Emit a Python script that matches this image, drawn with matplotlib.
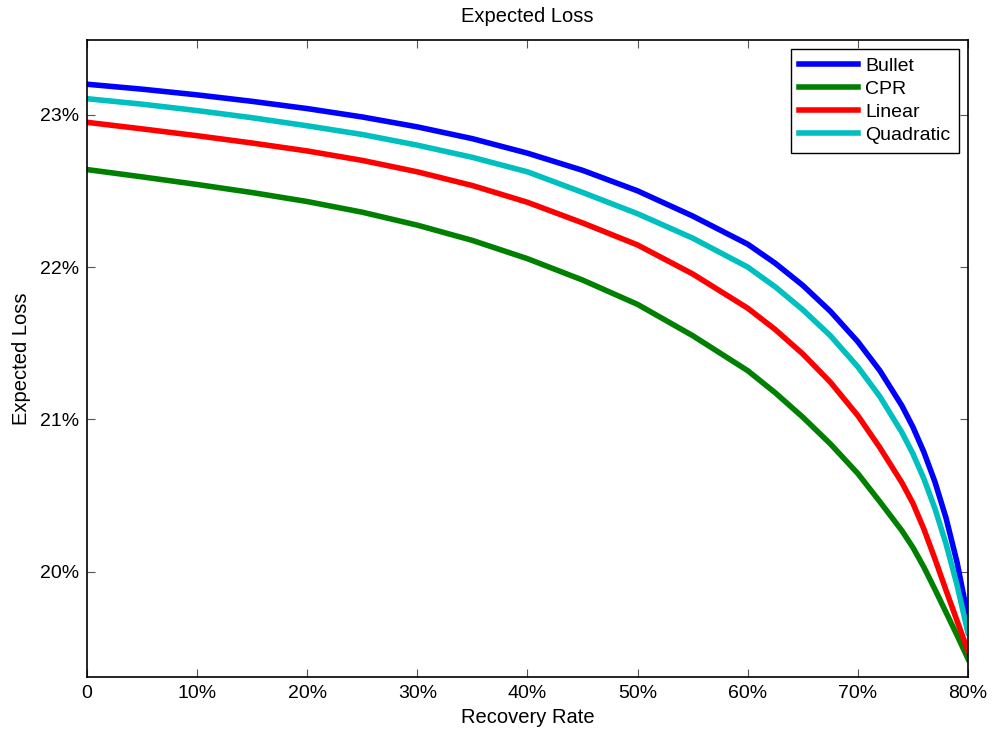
import numpy as np
import matplotlib.pyplot as plt
from matplotlib.ticker import FuncFormatter

plt.rcParams['font.family'] = ['Liberation Sans', 'DejaVu Sans']

# Recovery rate (%)
recovery = [0, 5, 10, 15, 20, 25, 30, 35, 40, 45, 50, 55, 60, 62.5, 65, 67.5,
            70, 72, 74, 75, 76, 77, 78, 79, 80]

# Expected loss (%) per amortization profile
bullet = [23.20, 23.1675, 23.13, 23.0875, 23.04, 22.985, 22.92, 22.8425, 22.7475, 22.635, 22.50,
          22.335, 22.15, 22.025, 21.88, 21.71, 21.51, 21.32, 21.09, 20.95, 20.785, 20.59,
          20.355, 20.065, 19.70]
cpr = [22.64, 22.592, 22.542, 22.489, 22.43, 22.36, 22.275, 22.175, 22.055, 21.915, 21.755,
       21.55, 21.32, 21.175, 21.015, 20.84, 20.645, 20.46, 20.27, 20.16, 20.03, 19.885,
       19.735, 19.585, 19.43]
linear = [22.95, 22.907, 22.862, 22.814, 22.762, 22.70, 22.625, 22.535, 22.425, 22.29, 22.145,
          21.955, 21.73, 21.59, 21.43, 21.245, 21.025, 20.815, 20.585, 20.45, 20.28, 20.085,
          19.88, 19.68, 19.48]
quadratic = [23.105, 23.069, 23.027, 22.98, 22.927, 22.87, 22.80, 22.72, 22.625, 22.49, 22.35,
             22.19, 22.00, 21.87, 21.72, 21.55, 21.345, 21.15, 20.915, 20.775, 20.61, 20.415,
             20.185, 19.915, 19.60]

names = ['Bullet', 'CPR', 'Linear', 'Quadratic']
colors = ['#0000ff', '#008000', '#ff0000', '#00bfbf']

fig = plt.figure(figsize=(9.92, 7.33), dpi=100)
ax = fig.add_axes([0.0877, 0.0764, 0.8881, 0.869])

for y, name, c in zip([bullet, cpr, linear, quadratic], names, colors):
    ax.plot(recovery, y, color=c, linewidth=4, label=name, solid_joinstyle='round')

ax.set_xlim(0, 80)
ax.set_ylim(19.31, 23.49)
ax.set_xticks(np.arange(0, 81, 10))
ax.set_yticks([20, 21, 22, 23])
ax.xaxis.set_major_formatter(FuncFormatter(lambda v, p: '0' if v == 0 else '%d%%' % v))
ax.yaxis.set_major_formatter(FuncFormatter(lambda v, p: '%d%%' % v))
ax.tick_params(direction='in', length=6, width=0.8, color='#555555', labelsize=14,
               top=True, right=True, pad=6)
for s in ax.spines.values():
    s.set_linewidth(1.2)

ax.set_title('Expected Loss', fontsize=14.5, pad=13)
ax.set_xlabel('Recovery Rate', fontsize=14.5, labelpad=4)
ax.set_ylabel('Expected Loss', fontsize=14.5, labelpad=6)

leg = ax.legend(loc='upper right', fontsize=14, handlelength=3.0, borderaxespad=0.45,
                fancybox=False, framealpha=1, edgecolor='black', labelspacing=0.28,
                handletextpad=0.4, borderpad=0.45)
leg.get_frame().set_linewidth(1.0)

fig.savefig('out.png', dpi=100)
